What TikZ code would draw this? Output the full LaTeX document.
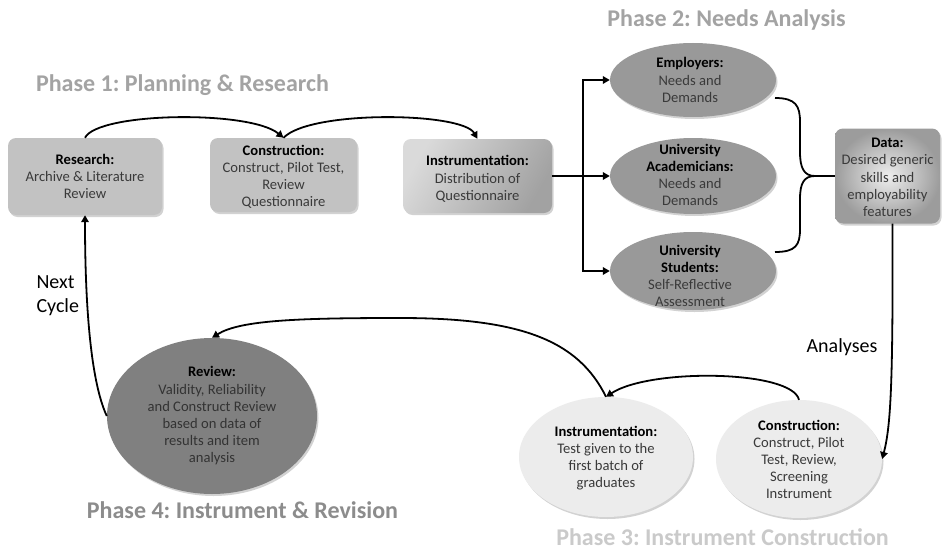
\documentclass[tikz,border=0pt]{standalone}
\usepackage{fontspec}
\setmainfont{Carlito}
\usetikzlibrary{arrows.meta,shapes.geometric,shadows}
\definecolor{txtgray}{HTML}{3A3A3A}
\definecolor{boxgray}{HTML}{C2C2C2}
\definecolor{inslight}{HTML}{DADADA}
\definecolor{insdark}{HTML}{A2A2A2}
\definecolor{datalight}{HTML}{EEEEEE}
\definecolor{datadark}{HTML}{9C9C9C}
\definecolor{ellgray}{HTML}{999999}
\definecolor{revgray}{HTML}{808080}
\definecolor{lightell}{HTML}{ECECEC}
\definecolor{ponegray}{HTML}{A3A3A3}
\definecolor{pfourgray}{HTML}{8C8C8C}
\definecolor{pthreegray}{HTML}{CACACA}
\newcommand{\hd}[1]{\textcolor{black}{\textbf{#1}}}
\frenchspacing
\begin{document}
\begin{tikzpicture}[x=1pt,y=-1pt,
  txt/.style={font=\fontsize{14.6}{17.2}\selectfont, text=txtgray, align=center},
  shad/.style={drop shadow={opacity=0.35,shadow xshift=1.5pt,shadow yshift=-2pt}},
  rbox/.style={draw=none, rounded corners=8pt, shad, inner sep=2pt},
  ell/.style={ellipse, draw=none, inner sep=0pt, shad},
  conn/.style={line width=1.8pt, draw=black},
  arr/.style={conn, -{Triangle[length=7pt,width=7.5pt]}},
  phase/.style={font=\fontsize{24}{28}\selectfont\bfseries},
  side/.style={font=\fontsize{20}{24}\selectfont, align=left, text=black}]
\useasboundingbox (0,0) rectangle (942,551);
\fill[white] (0,0) rectangle (942,551);

% Phase titles
\node[phase, text=ponegray] (p1) at (182.5,85) {Phase 1: Planning \& Research};
\node[phase, text=ponegray] (p2) at (726.5,20) {Phase 2: Needs Analysis};
\node[phase, text=pthreegray] (p3) at (722.5,537) {Phase 3: Instrument Construction};
\node[phase, text=pfourgray] (p4) at (242.5,510) {Phase 4: Instrument \& Revision};

% Phase 1 boxes
\node[rbox, fill=boxgray, minimum width=154pt, minimum height=77pt] (res) at (85,176.5) {};
\node[txt] (rest) at (res.center) {\hd{Research:}\\Archive \& Literature\\Review};
\node[rbox, fill=boxgray, minimum width=147pt, minimum height=74pt] (con) at (283.5,175) {};
\node[txt] (cont) at (283.5,177) {\hd{Construction:}\\Construct, Pilot Test,\\Review\\Questionnaire};
\node[rbox, left color=inslight, right color=insdark, shading angle=60, minimum width=149pt, minimum height=74pt] (ins) at (477.5,176) {};
\node[txt] (inst) at (477.5,179) {\hd{Instrumentation:}\\Distribution of\\Questionnaire};

% Phase 2 ellipses
\node[ell, fill=ellgray, minimum width=166pt, minimum height=74pt] (emp) at (693,80) {};
\node[txt] (empt) at (690,80) {\hd{Employers:}\\Needs and\\Demands};
\node[ell, fill=ellgray, minimum width=166pt, minimum height=76pt] (aca) at (693,176) {};
\node[txt] (acat) at (690,175) {\hd{University}\\\hd{Academicians:}\\Needs and\\Demands};
\node[ell, fill=ellgray, minimum width=166pt, minimum height=78pt] (stu) at (693,271) {};
\node[txt] (stut) at (690,276) {\hd{University}\\\hd{Students:}\\Self-Reflective\\Assessment};

% Data box
\node[rbox, inner color=datalight, outer color=datadark, minimum width=105pt, minimum height=95pt] (dat) at (887.5,176) {};
\node[txt] (datt) at (887.5,177.5) {\hd{Data:}\\Desired generic\\skills and\\employability\\features};

% Phase 3 ellipses
\node[ell, fill=lightell, minimum width=174pt, minimum height=120pt] (i3) at (606,457) {};
\node[txt] (i3t) at (606,458) {\hd{Instrumentation:}\\Test given to the\\first batch of\\graduates};
\node[ell, fill=lightell, minimum width=166pt, minimum height=118pt] (c3) at (799,459) {};
\node[txt] (c3t) at (799,459.5) {\hd{Construction:}\\Construct, Pilot\\Test, Review,\\Screening\\Instrument};

% Phase 4 ellipse
\node[ell, fill=revgray, minimum width=210pt, minimum height=156pt] (rev) at (212,416) {};
\node[txt, text=black!80] (revt) at (212,416) {\hd{Review:}\\Validity, Reliability\\and Construct Review\\based on data of\\results and item\\analysis};

% side labels
\node[side, anchor=west] (nc) at (33,296) {Next\\Cycle};
\node[side] (an) at (842,347) {Analyses};

% Phase 1 connectors
\draw[arr] (res.north) .. controls (98,112) and (250,110) .. (con.north);
\draw[arr] (con.north) .. controls (310,110) and (462,112) .. (ins.north);

% fan-out to Phase 2
\coordinate (j) at (583,176);
\draw[conn] (ins.east) -- (j);
\draw[arr] (j) |- (emp.west);
\draw[arr] (j) -- (aca.west);
\draw[arr] (j) |- (stu.west);

% brace to data
\coordinate (b1) at (775,98);
\coordinate (b3) at (775,252);
\coordinate (bt) at (815,176);
\draw[conn, line join=round] (b1) .. controls (796,98) and (800,106) .. (800,122)
  -- (800,152) .. controls (800,168) and (804,176) .. (bt) -- (dat.west);
\draw[conn, line join=round] (b3) .. controls (796,252) and (800,245) .. (800,229)
  -- (800,199) .. controls (800,183) and (804,176) .. (bt);

% data to phase 3
\draw[arr] ([xshift=5pt]dat.south) .. controls (893,380) and (891,425) .. (c3.east);

% phase 3 internal
\draw[arr] (c3.north) .. controls (792,370) and (650,368) .. (i3.north);

% phase 3 to review
\draw[arr] (i3.north) .. controls (578,340) and (520,318) .. (400,318)
  .. controls (300,318) and (240,320) .. (rev.north);

% review to research
\draw[arr] (rev.west) .. controls (90,380) and (85,300) .. (res.south);
\end{tikzpicture}
\end{document}
